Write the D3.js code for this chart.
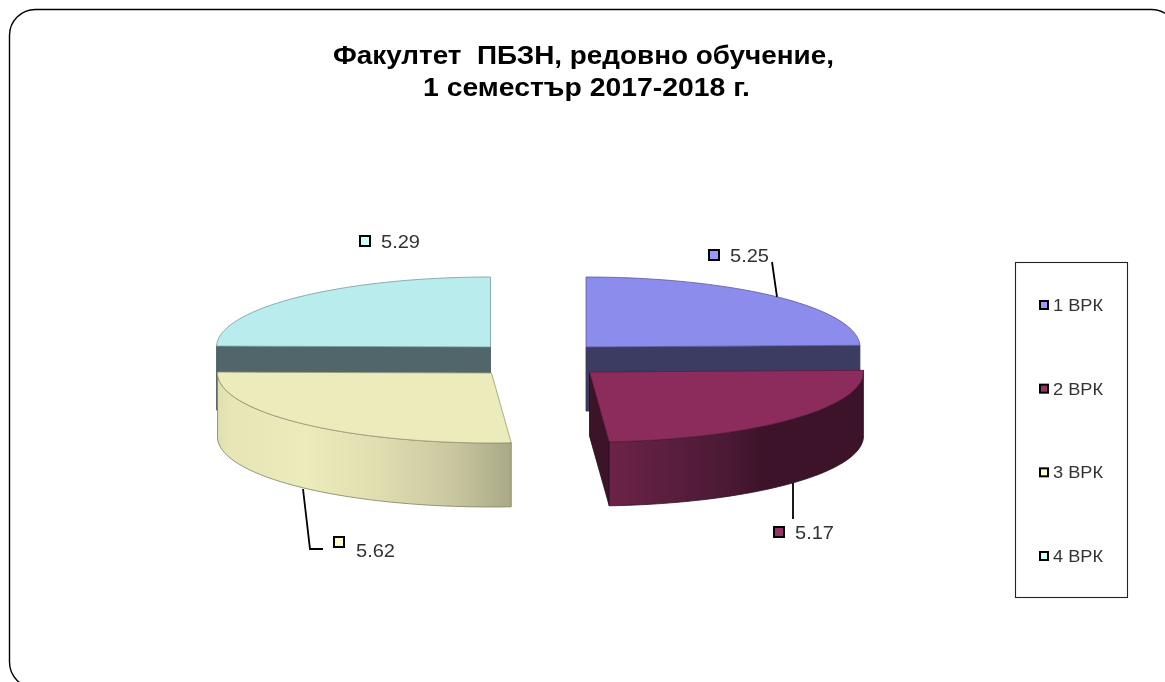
<!DOCTYPE html>
<html><head><meta charset="utf-8">
<style>html,body{margin:0;padding:0;background:#fff;overflow:hidden}svg{display:block;filter:blur(0.35px)}text{font-family:"Liberation Sans",Arial,sans-serif;white-space:pre}</style>
<script src="https://cdn.jsdelivr.net/npm/d3@7"></script></head><body>
<script>
const titleLines = ["Факултет  ПБЗН, редовно обучение,", "1 семестър 2017-2018 г."];
const titleBox = [[583.5,64,501],[586.5,96,327]];
const categories = ["1 ВРК", "2 ВРК", "3 ВРК", "4 ВРК"];
const values = [5.25, 5.17, 5.62, 5.29];
const valueLabels = ["5.25", "5.17", "5.62", "5.29"];
const topColors = ["#8c8cec", "#8b2c5c", "#ecebbb", "#b9ecec"];
const markerColors = ["#9999ff", "#993366", "#ffffcc", "#ccffff"];
const cutColors = ["#3c3c63", "#3d1328", "#a9a985", "#50666a"];
const wallStops = [
  null,
  [[0,"#6b2347"],[0.45,"#4c1a35"],[0.62,"#3c1328"],[1,"#3c1328"]],
  [[0,"#e0dfb0"],[0.04,"#e6e5b6"],[0.3,"#ecebbb"],[0.55,"#dfdeb0"],[0.8,"#c8c7a0"],[1,"#a9a985"]],
  null
];
const apex = [[586,347],[589.5,372],[491.5,373],[490.5,347]];
const rx = 274, ry = 70, depth = 64;
const leaders = [[[777,297],[772,262]],[[793,483],[793,519]],[[303,489],[310,549],[323,549]],[]];
const labelPos = [[714,255,730,262],[779,532,795,539],[339,542,356,557],[365,241,381,248]];

const W = 1165, H = 682;
const svg = d3.select("body").append("svg").attr("width",W).attr("height",H);
const defs = svg.append("defs");

svg.append("rect").attr("x",9.5).attr("y",9.5).attr("width",1168).attr("height",678.5)
  .attr("rx",26).attr("fill","#fff").attr("stroke","#000").attr("stroke-width",1.4);

titleLines.forEach((t,i)=>svg.append("text").attr("x",titleBox[i][0]).attr("y",titleBox[i][1])
  .attr("text-anchor","middle").attr("font-size",25).attr("font-weight","bold").attr("fill","#000")
  .attr("textLength",titleBox[i][2]).attr("lengthAdjust","spacingAndGlyphs").text(t));

const arcs = d3.pie().sort(null).value(d=>d)(values);
const sx = d3.scaleLinear().domain([-1,1]).range([-rx,rx]);
const sy = d3.scaleLinear().domain([-1,1]).range([-ry,ry]);
const pt = (i,a,dz=0)=>[apex[i][0]+sx(Math.sin(a)), apex[i][1]-sy(Math.cos(a))+dz];
const rim = (i,a0,a1,dz=0)=>d3.range(0,41).map(k=>pt(i,a0+(a1-a0)*k/40,dz));
const line = d3.line();

const order = [3,0,2,1];
order.forEach(i=>{
  const a = arcs[i], g = svg.append("g");
  const edge = d3.color(topColors[i]).darker(1.2).formatHex();
  if(i===0||i===3||i===1){
    const ang = i===3?a.startAngle:a.endAngle;
    const e = pt(i,ang), p0 = apex[i];
    g.append("path").attr("d",line([p0,e,[e[0],e[1]+depth],[p0[0],p0[1]+depth]])+"Z")
      .attr("fill",cutColors[i]).attr("stroke",i===1?"#1e0a14":d3.color(cutColors[i]).darker(0.5).formatHex()).attr("stroke-width",0.8);
  }
  if(wallStops[i]){
    const top = rim(i,a.startAngle,a.endAngle), bot = rim(i,a.endAngle,a.startAngle,depth);
    const xs = top.map(d=>d[0]);
    const gr = defs.append("linearGradient").attr("id","w"+i).attr("gradientUnits","userSpaceOnUse")
      .attr("x1",d3.min(xs)).attr("x2",d3.max(xs)).attr("y1",0).attr("y2",0);
    wallStops[i].forEach(s=>gr.append("stop").attr("offset",s[0]).attr("stop-color",s[1]));
    g.append("path").attr("d",line(top.concat(bot))+"Z").attr("fill",`url(#w${i})`)
      .attr("stroke",d3.color(cutColors[i]).darker(0.8).formatHex()).attr("stroke-width",0.8);
  }
  g.append("path").attr("d",line([apex[i]].concat(rim(i,a.startAngle,a.endAngle)))+"Z")
    .attr("fill",topColors[i]).attr("stroke",edge).attr("stroke-width",0.8);
});

leaders.forEach(l=>{ if(l.length) svg.append("path").attr("d",line(l)).attr("fill","none").attr("stroke","#000").attr("stroke-width",1.8); });

const marker = (x,y,c,s)=>svg.append("rect").attr("x",x-s/2).attr("y",y-s/2).attr("width",s).attr("height",s)
  .attr("fill",c).attr("stroke","#000").attr("stroke-width",2);
values.forEach((v,i)=>{
  const p = labelPos[i];
  marker(p[0],p[1],markerColors[i],10);
  svg.append("text").attr("x",p[2]).attr("y",p[3]).attr("font-size",18).attr("fill","#333")
    .attr("textLength",39).attr("lengthAdjust","spacingAndGlyphs").text(valueLabels[i]);
});

svg.append("rect").attr("x",1015.5).attr("y",262.5).attr("width",112).attr("height",335)
  .attr("fill","#fff").attr("stroke","#222").attr("stroke-width",1.1);
const ly = d3.scalePoint().domain(categories).range([305,556]);
categories.forEach((c,i)=>{
  marker(1044,ly(c),markerColors[i],8);
  svg.append("text").attr("x",1053).attr("y",ly(c)+6).attr("font-size",17).attr("fill","#333")
    .attr("textLength",50).attr("lengthAdjust","spacingAndGlyphs").text(c);
});
</script></body></html>
